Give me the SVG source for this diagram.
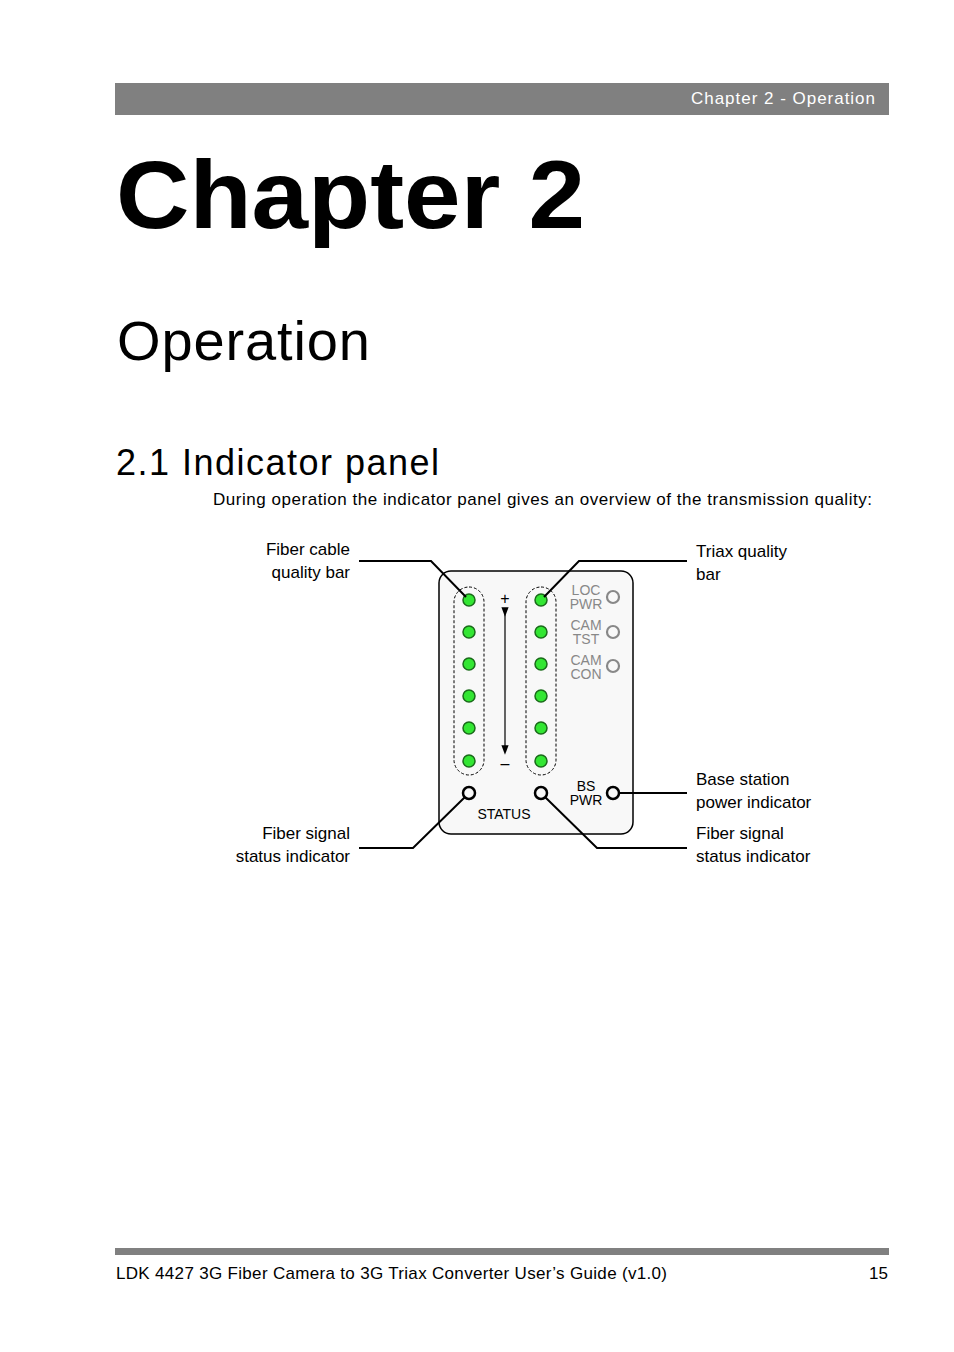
<svg xmlns="http://www.w3.org/2000/svg" width="954" height="1352" viewBox="0 0 954 1352">
<style>
text{font-family:"Liberation Sans",Arial,sans-serif;fill:#000}
.lbl{font-size:17px}
.led{fill:#33e633;stroke:#1a6b1a;stroke-width:1.5}
.gi{fill:none;stroke:#888;stroke-width:2.2}
.bi{fill:none;stroke:#000;stroke-width:2.5}
.gt{font-size:14px;fill:#888}
.bt{font-size:14px;fill:#000}
.ln{fill:none;stroke:#000;stroke-width:2}
</style>
<defs><marker id="ah" markerWidth="8" markerHeight="8" refX="4" refY="4" orient="auto"><path d="M0,1 L8,4 L0,7z" fill="#000"/></marker></defs>
<rect width="954" height="1352" fill="#fff"/>
<rect x="115" y="83" width="774" height="32" fill="#808080"/>
<text x="691" y="104" style="font-size:17px;fill:#fff" textLength="184">Chapter 2 - Operation</text>
<text x="116" y="228" style="font-size:96px;font-weight:bold" textLength="469" lengthAdjust="spacingAndGlyphs">Chapter 2</text>
<text x="117" y="360" style="font-size:56px" textLength="253">Operation</text>
<text x="116" y="475" style="font-size:36px" textLength="323">2.1  Indicator panel</text>
<text x="213" y="505" class="lbl" textLength="659">During operation the indicator panel gives an overview of the transmission quality:</text>
<g id="panel">
<rect x="439" y="571" width="194" height="263" rx="12" fill="#f8f8f8" stroke="#000" stroke-width="1.5"/>
<rect x="454" y="587" width="30" height="188" rx="15" fill="none" stroke="#000" stroke-dasharray="3,2"/>
<rect x="526" y="587" width="30" height="188" rx="15" fill="none" stroke="#000" stroke-dasharray="3,2"/>
<g id="leds">
<circle class="led" cx="469" cy="600" r="6"/><circle class="led" cx="469" cy="632" r="6"/><circle class="led" cx="469" cy="664" r="6"/><circle class="led" cx="469" cy="696" r="6"/><circle class="led" cx="469" cy="728" r="6"/><circle class="led" cx="469" cy="761" r="6"/>
<circle class="led" cx="541" cy="600" r="6"/><circle class="led" cx="541" cy="632" r="6"/><circle class="led" cx="541" cy="664" r="6"/><circle class="led" cx="541" cy="696" r="6"/><circle class="led" cx="541" cy="728" r="6"/><circle class="led" cx="541" cy="761" r="6"/>
</g>
<line x1="505" y1="612" x2="505" y2="750" stroke="#000" stroke-width="1.2" marker-start="url(#ah)" marker-end="url(#ah)"/>
<text x="505" y="604" text-anchor="middle" style="font-size:16px">+</text>
<text x="505" y="769" text-anchor="middle" style="font-size:16px">–</text>
<circle class="gi" cx="613" cy="597" r="6"/><circle class="gi" cx="613" cy="632" r="6"/><circle class="gi" cx="613" cy="666" r="6"/>
<text class="gt" x="586" y="595" text-anchor="middle">LOC</text><text class="gt" x="586" y="609" text-anchor="middle">PWR</text>
<text class="gt" x="586" y="630" text-anchor="middle">CAM</text><text class="gt" x="586" y="644" text-anchor="middle">TST</text>
<text class="gt" x="586" y="665" text-anchor="middle">CAM</text><text class="gt" x="586" y="679" text-anchor="middle">CON</text>
<circle class="bi" cx="469" cy="793" r="6"/><circle class="bi" cx="541" cy="793" r="6"/><circle class="bi" cx="613" cy="793" r="6"/>
<text class="bt" x="586" y="791" text-anchor="middle">BS</text><text class="bt" x="586" y="805" text-anchor="middle">PWR</text>
<text class="bt" x="504" y="819" text-anchor="middle">STATUS</text>
</g>
<g id="connectors">
<polyline class="ln" points="359,561 431,561 466,597"/>
<polyline class="ln" points="687,561 579,561 544,597"/>
<polyline class="ln" points="619,793 687,793"/>
<polyline class="ln" points="545,797 597,848 687,848"/>
<polyline class="ln" points="465,797 413,848 359,848"/>
</g>
<g id="labels" class="lbl">
<text x="350" y="555" text-anchor="end" class="lbl">Fiber cable</text><text x="350" y="578" text-anchor="end" class="lbl">quality bar</text>
<text x="696" y="557" class="lbl">Triax quality</text><text x="696" y="580" class="lbl">bar</text>
<text x="696" y="785" class="lbl">Base station</text><text x="696" y="808" class="lbl">power indicator</text>
<text x="696" y="839" class="lbl">Fiber signal</text><text x="696" y="862" class="lbl">status indicator</text>
<text x="350" y="839" text-anchor="end" class="lbl">Fiber signal</text><text x="350" y="862" text-anchor="end" class="lbl">status indicator</text>
</g>
<rect x="115" y="1248" width="774" height="7" fill="#808080"/>
<text x="116" y="1279" class="lbl" textLength="551">LDK 4427 3G Fiber Camera to 3G Triax Converter User’s Guide (v1.0)</text>
<text x="888" y="1279" text-anchor="end" class="lbl">15</text>
</svg>
